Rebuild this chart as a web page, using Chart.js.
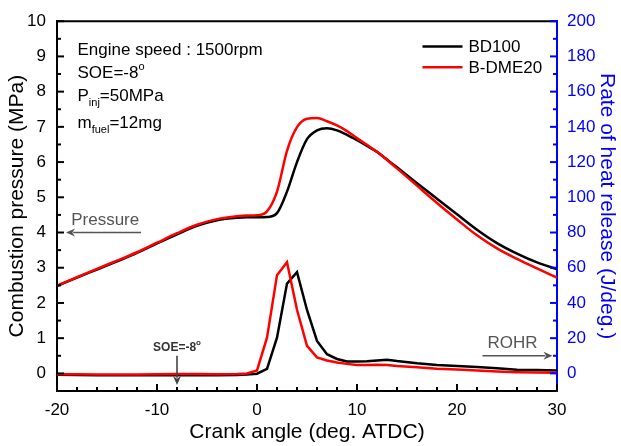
<!DOCTYPE html>
<html><head><meta charset="utf-8">
<script src="https://cdn.jsdelivr.net/npm/chart.js@4"></script>
<style>html,body{margin:0;padding:0;background:#fff;} #wrap{width:621px;height:446px;}</style>
</head><body><div id="wrap"><canvas id="c" width="621" height="446"></canvas></div>
<script>
// ---- data ----
const crankAngle = [-20,-18,-16,-14,-12,-10,-8,-6,-4,-2,-1,0,1,2,3,4,5,6,7,8,9,10,11,12,13,14,16,18,20,22,24,26,28,30];
const pressureBD100  = [2.48,2.72,2.95,3.18,3.42,3.69,3.95,4.19,4.35,4.42,4.43,4.43,4.44,4.55,5.16,6.00,6.65,6.90,6.96,6.90,6.77,6.62,6.46,6.29,6.07,5.85,5.40,4.96,4.52,4.08,3.70,3.40,3.15,2.96];
const pressureBDME20 = [2.49,2.73,2.97,3.20,3.44,3.71,3.98,4.22,4.38,4.46,4.48,4.49,4.60,5.16,6.32,6.99,7.23,7.25,7.16,7.04,6.88,6.68,6.49,6.29,6.06,5.82,5.33,4.84,4.37,3.92,3.55,3.25,2.98,2.72];
const rohrBD100  = [-0.8,-0.9,-1.0,-1.0,-1.0,-1.0,-1.0,-1.0,-1.0,-0.9,-0.6,-0.2,2.6,20.3,51.0,57.5,36.0,18.4,10.9,8.2,6.8,6.7,6.9,7.3,7.8,7.0,5.7,4.8,4.2,3.6,2.9,2.1,1.9,1.7];
const rohrBDME20 = [-0.5,-0.5,-0.6,-0.6,-0.6,-0.5,-0.4,-0.4,-0.5,-0.4,0.0,1.7,20.3,55.7,63.1,36.1,15.6,9.1,7.3,6.2,5.4,4.8,4.7,4.9,4.7,4.2,3.5,2.7,2.2,1.7,1.1,0.7,0.5,0.4];
const seriesNames  = ['BD100','B-DME20'];
const seriesColors = ['#000000','#ff0000'];
const xTickValues = [-20,-10,0,10,20,30];
const pressureTickValues = [0,1,2,3,4,5,6,7,8,9,10];
const rohrTickValues = [0,20,40,60,80,100,120,140,160,180,200];

const FONT = "'Liberation Sans', Arial, Helvetica, sans-serif";
const BLUE = '#0000ff';
function pts(ys){ return crankAngle.map((x,i)=>({x:x, y:ys[i]})); }
function setTicks(vals){ return s => { s.ticks = vals.map(v=>({value:v})); }; }

function drawArrow(ctx, x1, y1, x2, y2, color){
  const ang = Math.atan2(y2-y1, x2-x1), hl = 9, hw = 4;
  ctx.save();
  ctx.strokeStyle = color; ctx.fillStyle = color; ctx.lineWidth = 1.6;
  ctx.beginPath(); ctx.moveTo(x1,y1);
  ctx.lineTo(x2 - Math.cos(ang)*hl*0.8, y2 - Math.sin(ang)*hl*0.8); ctx.stroke();
  ctx.beginPath();
  ctx.moveTo(x2,y2);
  ctx.lineTo(x2 - Math.cos(ang)*hl - Math.sin(ang)*hw, y2 - Math.sin(ang)*hl + Math.cos(ang)*hw);
  ctx.lineTo(x2 - Math.cos(ang)*hl*0.7, y2 - Math.sin(ang)*hl*0.7);
  ctx.lineTo(x2 - Math.cos(ang)*hl + Math.sin(ang)*hw, y2 - Math.sin(ang)*hl - Math.cos(ang)*hw);
  ctx.closePath(); ctx.fill();
  ctx.restore();
}
// draw runs of [text, size, dy, bold]
function drawRuns(ctx, x, y, runs, color){
  ctx.save(); ctx.fillStyle = color; ctx.textBaseline = 'alphabetic'; ctx.textAlign = 'left';
  let cx = x;
  runs.forEach(r => {
    ctx.font = (r[3] ? 'bold ' : '') + r[1] + 'px ' + FONT;
    ctx.fillText(r[0], cx, y + r[2]);
    cx += ctx.measureText(r[0]).width;
  });
  ctx.restore();
}
function runsWidth(ctx, runs){
  let w = 0; ctx.save();
  runs.forEach(r => { ctx.font = (r[3] ? 'bold ' : '') + r[1] + 'px ' + FONT; w += ctx.measureText(r[0]).width; });
  ctx.restore(); return w;
}

const framePlugin = {
  id: 'frame',
  afterDatasetsDraw(chart){
    const ctx = chart.ctx, a = chart.chartArea;
    const sx = chart.scales.x, sy = chart.scales.y, sr = chart.scales.y1;
    ctx.save();
    ctx.lineCap = 'butt';
    const seg = (x1,y1,x2,y2) => { ctx.beginPath(); ctx.moveTo(x1,y1); ctx.lineTo(x2,y2); ctx.stroke(); };
    ctx.strokeStyle = '#000'; ctx.lineWidth = 2;
    seg(a.left-1, a.top, a.right, a.top);
    for (let v = -20; v <= 30; v += 2) {
      const px = sx.getPixelForValue(v);
      seg(px, a.bottom, px, a.bottom - (v % 10 === 0 ? 7 : 4));
    }
    for (let k = 0; k <= 20; k++) {
      const py = sy.getPixelForValue(k/2);
      seg(a.left, py, a.left + (k % 2 === 0 ? 7 : 4), py);
    }
    ctx.strokeStyle = BLUE;
    for (let v = 0; v <= 200; v += 10) {
      const py = sr.getPixelForValue(v);
      seg(a.right, py, a.right - (v % 20 === 0 ? 7 : 4), py);
    }
    ctx.restore();
  },
  afterDraw(chart){
    const ctx = chart.ctx;
    const sx = chart.scales.x, sy = chart.scales.y, sr = chart.scales.y1;
    const X = v => sx.getPixelForValue(v), Y = v => sy.getPixelForValue(v), R = v => sr.getPixelForValue(v);
    // conditions text
    const x0 = X(-17.95);
    drawRuns(ctx, x0, Y(9.05), [['Engine speed : 1500rpm',17,0]], '#000');
    drawRuns(ctx, x0, Y(8.38), [['SOE=-8',17,0],['o',11,-8]], '#000');
    drawRuns(ctx, x0, Y(7.74), [['P',17,0],['inj',11,5],['=50MPa',17,0]], '#000');
    drawRuns(ctx, x0, Y(6.97), [['m',17,0],['fuel',11,5],['=12mg',17,0]], '#000');
    // legend
    ctx.save();
    ctx.lineWidth = 2.5;
    seriesNames.forEach((n,i) => {
      const yy = Y(9.28 - i*0.59);
      ctx.strokeStyle = seriesColors[i];
      ctx.beginPath(); ctx.moveTo(X(16.55), yy); ctx.lineTo(X(20.55), yy); ctx.stroke();
      ctx.fillStyle = '#000'; ctx.font = '17px ' + FONT; ctx.textBaseline = 'middle'; ctx.textAlign = 'left';
      ctx.fillText(n, X(21.15), yy + 1);
    });
    ctx.restore();
    // Pressure arrow
    drawRuns(ctx, X(-18.58), Y(4.22), [['Pressure',17,0]], '#555');
    drawArrow(ctx, X(-11.6), Y(4.0), X(-19.1), Y(4.0), '#555');
    // ROHR arrow
    drawRuns(ctx, X(23.05), R(14.5), [['ROHR',17,0]], '#555');
    drawArrow(ctx, X(22.55), R(10), X(29.55), R(10), '#555');
    // SOE marker
    const soeRuns = [['SOE=-8',12,0,true],['o',8,-6,true]];
    const w = runsWidth(ctx, soeRuns);
    drawRuns(ctx, X(-8) - w/2, Y(0.64), soeRuns, '#333');
    drawArrow(ctx, X(-8), Y(0.5), X(-8), Y(-0.33), '#444');
  }
};

const lineBase = { pointRadius: 0, borderWidth: 2.5, fill: false };
new Chart(document.getElementById('c').getContext('2d'), {
  type: 'line',
  data: { datasets: [
    Object.assign({ label: seriesNames[1]+' pressure', data: pts(pressureBDME20), yAxisID: 'y', borderColor: seriesColors[1], cubicInterpolationMode: 'monotone', order: 0 }, lineBase),
    Object.assign({ label: seriesNames[0]+' pressure', data: pts(pressureBD100),  yAxisID: 'y', borderColor: seriesColors[0], cubicInterpolationMode: 'monotone', order: 1 }, lineBase),
    Object.assign({ label: seriesNames[1]+' ROHR', data: pts(rohrBDME20), yAxisID: 'y1', borderColor: seriesColors[1], tension: 0, order: 0 }, lineBase),
    Object.assign({ label: seriesNames[0]+' ROHR', data: pts(rohrBD100),  yAxisID: 'y1', borderColor: seriesColors[0], tension: 0, order: 1 }, lineBase)
  ]},
  options: {
    responsive: false, animation: false, devicePixelRatio: 1,
    layout: { padding: { top: 15, left: 0, right: 0, bottom: 0 } },
    plugins: { legend: { display: false }, tooltip: { enabled: false } },
    scales: {
      x: {
        type: 'linear', min: -20, max: 30,
        afterBuildTicks: setTicks(xTickValues),
        afterFit: s => { s.height = 55; },
        grid: { display: false, drawTicks: false },
        border: { display: true, color: '#000', width: 2 },
        ticks: { padding: 9, color: '#000', font: { family: FONT, size: 17 } },
        title: { display: true, text: 'Crank angle (deg. ATDC)', color: '#000', font: { family: FONT, size: 21 }, padding: { top: 0, bottom: 1 } }
      },
      y: {
        position: 'left', min: -0.5, max: 10,
        afterBuildTicks: setTicks(pressureTickValues),
        afterFit: s => { s.width = 57; },
        grid: { display: false, drawTicks: false },
        border: { display: true, color: '#000', width: 2 },
        ticks: { padding: 11, color: '#000', font: { family: FONT, size: 17 } },
        title: { display: true, text: 'Combustion pressure (MPa)', color: '#000', font: { family: FONT, size: 21 }, padding: { top: 5, bottom: 0 } }
      },
      y1: {
        position: 'right', min: -10, max: 200,
        afterBuildTicks: setTicks(rohrTickValues),
        afterFit: s => { s.width = 64; },
        grid: { display: false, drawTicks: false },
        border: { display: true, color: BLUE, width: 2 },
        ticks: { padding: 10, color: BLUE, font: { family: FONT, size: 17 } },
        title: { display: true, text: 'Rate of heat release (J/deg.)', color: BLUE, font: { family: FONT, size: 21 }, padding: { top: 2, bottom: 0 } }
      }
    }
  },
  plugins: [framePlugin]
});
</script>
</body></html>
